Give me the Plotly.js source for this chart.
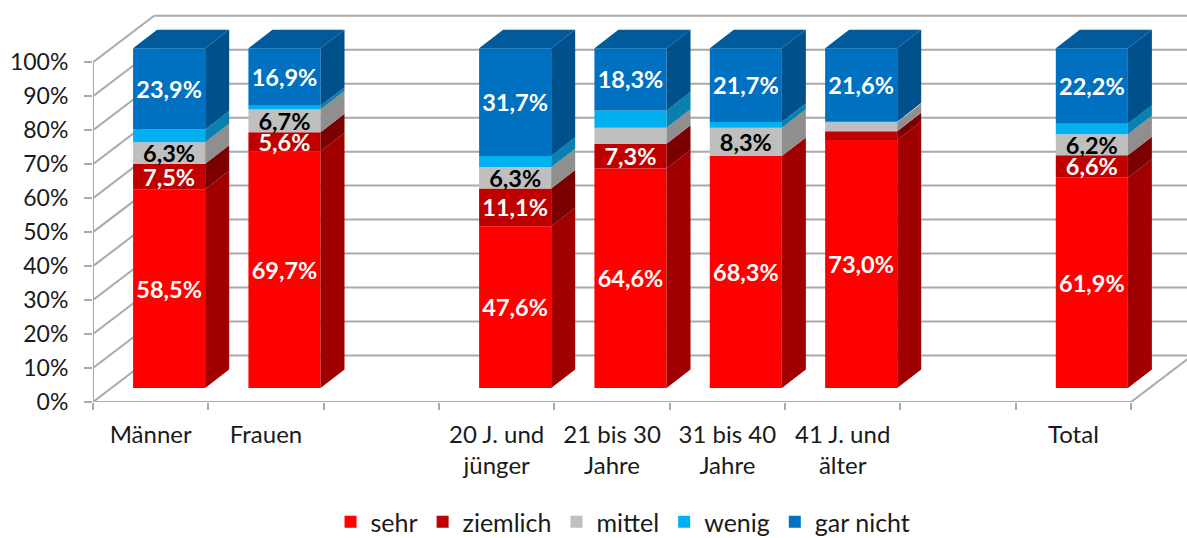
<!DOCTYPE html>
<html><head><meta charset="utf-8">
<script src="https://cdn.plot.ly/plotly-3.0.1.min.js"></script>
<style>html,body{margin:0;padding:0;background:#fff}</style></head>
<body><div id="chart" style="width:1187px;height:538px"></div>
<script>
const categories = ['Männer','Frauen','','20 J. und<br>jünger','21 bis 30<br>Jahre','31 bis 40<br>Jahre','41 J. und<br>älter','','Total'];
const sehr     = [58.5,69.7,null,47.6,64.6,68.3,73.0,null,61.9];
const ziemlich = [7.5,5.6,null,11.1,7.3,0,2.6,null,6.6];
const mittel   = [6.3,6.7,null,6.3,4.7,8.3,2.6,null,6.2];
const wenig    = [3.8,1.1,null,3.3,5.1,1.7,0.2,null,3.1];
const garNicht = [23.9,16.9,null,31.7,18.3,21.7,21.6,null,22.2];
const sehrLabels     = ['58,5%','69,7%','','47,6%','64,6%','68,3%','73,0%','','61,9%'];
const ziemlichLabels = ['7,5%','5,6%','','11,1%','7,3%','','','','6,6%'];
const mittelLabels   = ['6,3%','6,7%','','6,3%','','8,3%','','','6,2%'];
const wenigLabels    = ['','','','','','','','',''];
const garNichtLabels = ['23,9%','16,9%','','31,7%','18,3%','21,7%','21,6%','','22,2%'];
const yTicks = [0,10,20,30,40,50,60,70,80,90,100];
const yTickLabels = ['0%','10%','20%','30%','40%','50%','60%','70%','80%','90%','100%'];

const seriesList = [
 {name:'sehr',values:sehr,labels:sehrLabels,front:'#ff0000',side:'#a00000',txt:'#fff'},
 {name:'ziemlich',values:ziemlich,labels:ziemlichLabels,front:'#c00000',side:'#7c0000',txt:'#fff'},
 {name:'mittel',values:mittel,labels:mittelLabels,front:'#bfbfbf',side:'#8f8f8f',txt:'#000'},
 {name:'wenig',values:wenig,labels:wenigLabels,front:'#00b0f0',side:'#0a80ae',txt:'#fff'},
 {name:'gar nicht',values:garNicht,labels:garNichtLabels,front:'#0070c0',side:'#00508c',txt:'#fff'}
];
const roofColor = '#005a9c';
const gridColor = '#a9a9a9';

// 3-D projection, in axis units
const wallDx = 0.53, wallDy = 13.69;
const barBase = 4.12, barShift = 0.16, barW = 0.625, barDx = 0.208, barDy = 5.45;
const left = -0.5, right = 8.5, farRight = 9.2;

// Wall, floor and axis lines sit below the bars
const shapes = [];
const seg = (x0,y0,x1,y1)=>shapes.push({type:'line',layer:'below',xref:'x',yref:'y',x0,y0,x1,y1,line:{color:gridColor,width:2}});
yTicks.forEach(v=>{ seg(left,v,left+wallDx,v+wallDy); seg(left+wallDx,v+wallDy,farRight,v+wallDy); });
seg(left,0,left,100); seg(left,0,right,0); seg(right,0,right+wallDx,wallDy);

const traces = [];
const xs = categories.map((c,i)=>i+barShift);
const cum = categories.map(()=>barBase);
const frontTraces=[];
seriesList.forEach(s=>{
  const base = cum.slice();
  const sx=[], sy=[];
  s.values.forEach((v,i)=>{
    if(v===null) return;
    const xr = xs[i]+barW/2, b=cum[i], t=b+v;
    sx.push(xr,xr+barDx,xr+barDx,xr,xr,null);
    sy.push(b,b+barDy,t+barDy,t,b,null);
    cum[i]=t;
  });
  traces.push({type:'scatter',mode:'lines',x:sx,y:sy,fill:'toself',fillcolor:s.side,line:{width:0,color:s.side},hoverinfo:'skip',showlegend:false});
  frontTraces.push({type:'bar',name:s.name,x:xs,y:s.values,base:base,width:barW,
    marker:{color:s.front,line:{width:0}},text:s.labels,textposition:'inside',insidetextanchor:'middle',
    textangle:0,constraintext:'none',cliponaxis:false,
    textfont:{family:'Lato, sans-serif',size:23.5,color:s.txt,weight:700}});
});
// roof
const rx=[], ry=[];
xs.forEach((x,i)=>{ if(sehr[i]===null) return;
  const l=x-barW/2,r=x+barW/2,t=cum[i];
  rx.push(l,l+barDx,r+barDx,r,l,null); ry.push(t,t+barDy,t+barDy,t,t,null);
});
traces.push({type:'scatter',mode:'lines',x:rx,y:ry,fill:'toself',fillcolor:roofColor,line:{width:0,color:roofColor},hoverinfo:'skip',showlegend:false});
traces.push(...frontTraces);

const layout = {
  width:1187,height:538,paper_bgcolor:'#fff',plot_bgcolor:'rgba(0,0,0,0)',
  margin:{l:93,r:0,t:14,b:136,autoexpand:false},
  barmode:'overlay',showlegend:true,shapes,
  font:{family:'Lato, sans-serif',size:24,color:'#1a1a1a'},
  xaxis:{range:[left,8.985],tickmode:'array',tickvals:categories.map((c,i)=>i),ticktext:categories,
    ticks:'',showgrid:false,zeroline:false,showline:false,tickangle:0,tickfont:{size:24},ticklabelstandoff:16,
    minor:{tick0:-0.5,dtick:1,ticks:'outside',ticklen:7,tickcolor:gridColor,tickwidth:2,showgrid:false}},
  yaxis:{range:[0,114.2],tickmode:'array',tickvals:yTicks,ticktext:yTickLabels,ticks:'outside',ticklen:8,
    tickcolor:gridColor,tickwidth:2,showgrid:false,zeroline:false,showline:false,tickfont:{size:23},ticklabelstandoff:11},
  legend:{orientation:'h',x:0.4845,xref:'paper',xanchor:'center',y:-0.25,yref:'paper',yanchor:'top',font:{size:25},traceorder:'normal',itemwidth:30}
};
Plotly.newPlot('chart',traces,layout,{displayModeBar:false,staticPlot:true});
</script></body></html>
